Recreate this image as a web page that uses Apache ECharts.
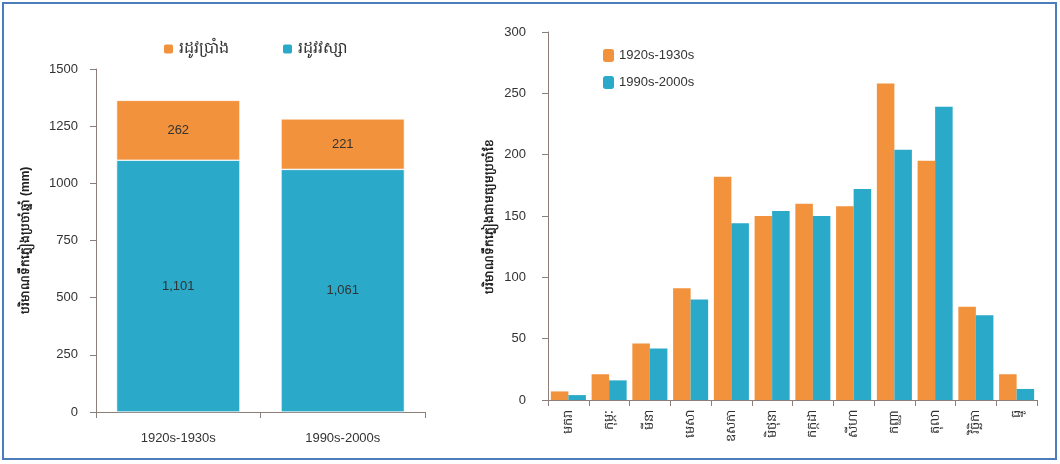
<!DOCTYPE html>
<html>
<head>
<meta charset="utf-8">
<script src="https://cdn.jsdelivr.net/npm/echarts@6/dist/echarts.min.js"></script>
<style>
  html, body { margin: 0; padding: 0; background: #fff; }
  #chart { width: 1060px; height: 464px; }
</style>
</head>
<body>
<div id="chart"></div>
<script>
// left chart: annual rainfall by season
var periods = ['1920s-1930s', '1990s-2000s'];
var seasonNames = ['រដូវប្រាំង', 'រដូវវស្សា'];
var drySeason = [262, 221];
var rainySeason = [1101, 1061];

// right chart: monthly rainfall
var months = ['មករា', 'កុម្ភៈ', 'មីនា', 'មេសា', 'ឧសភា', 'មិថុនា', 'កក្កដា', 'សីហា', 'កញ្ញា', 'តុលា', 'វិច្ឆិកា', 'ធ្នូ'];
var monthly1920s = [7, 21, 46, 91, 182, 150, 160, 158, 258, 195, 76, 21];
var monthly1990s = [4, 16, 42, 82, 144, 154, 150, 172, 204, 239, 69, 9];

var leftAxisName = 'បរិមាណទឹកភ្លៀងប្រចាំឆ្នាំ (mm)';
var rightAxisName = 'បរិមាណទឹកភ្លៀងជាមធ្យមប្រចាំខែ';

var ORANGE = '#F2923C';
var BLUE = '#2AA9C9';
var AXIS = '#8C7F7A';
var FONT = '"Liberation Sans", Arial, "Noto Sans", sans-serif';

var chart = echarts.init(document.getElementById('chart'));

function fmt(v) {
    return v.toLocaleString('en-US');
}

var option = {
    animation: false,
    textStyle: { fontFamily: FONT },
    graphic: [{
        type: 'rect',
        shape: { x: 3, y: 3, width: 1053, height: 456 },
        style: { fill: 'none', stroke: '#4A7DBA', lineWidth: 2 }
    }],
    legend: [{
        data: [seasonNames[0], seasonNames[1]],
        left: 157,
        top: 36,
        itemWidth: 11,
        itemHeight: 11,
        itemGap: 52,
        textStyle: { fontSize: 16, color: '#333' }
    }, {
        data: [periods[0], periods[1]],
        orient: 'vertical',
        left: 598,
        top: 44,
        itemWidth: 11,
        itemHeight: 13,
        itemGap: 14,
        textStyle: { fontSize: 13, color: '#333' }
    }],
    grid: [
        { left: 96, top: 69, width: 329, height: 343 },
        { left: 548, top: 32, width: 489, height: 368 }
    ],
    xAxis: [{
        type: 'category',
        gridIndex: 0,
        data: periods,
        axisLine: { lineStyle: { color: AXIS } },
        axisTick: { show: true, length: 6, lineStyle: { color: AXIS } },
        axisLabel: { color: '#333', fontSize: 13, margin: 20 }
    }, {
        type: 'category',
        gridIndex: 1,
        data: months,
        axisLine: { lineStyle: { color: AXIS } },
        axisTick: { show: true, length: 6, lineStyle: { color: AXIS } },
        axisLabel: { color: '#333', fontSize: 13, rotate: 90, margin: 10, interval: 0 }
    }],
    yAxis: [{
        type: 'value',
        gridIndex: 0,
        min: 0,
        max: 1500,
        interval: 250,
        name: leftAxisName,
        nameLocation: 'middle',
        nameGap: 64,
        nameRotate: 90,
        nameTextStyle: { color: '#222', fontSize: 12, fontWeight: 'bold' },
        axisLine: { show: true, lineStyle: { color: AXIS } },
        axisTick: { show: true, length: 6, lineStyle: { color: AXIS } },
        splitLine: { show: false },
        axisLabel: {
            color: '#333',
            fontSize: 13,
            margin: 18,
            formatter: function (v) { return String(v); }
        }
    }, {
        type: 'value',
        gridIndex: 1,
        min: 0,
        max: 300,
        interval: 50,
        name: rightAxisName,
        nameLocation: 'middle',
        nameGap: 52,
        nameRotate: 90,
        nameTextStyle: { color: '#222', fontSize: 12, fontWeight: 'bold' },
        axisLine: { show: true, lineStyle: { color: AXIS } },
        axisTick: { show: true, length: 6, lineStyle: { color: AXIS } },
        splitLine: { show: false },
        axisLabel: { color: '#333', fontSize: 13, margin: 22 }
    }],
    series: [{
        name: seasonNames[1],
        type: 'bar',
        xAxisIndex: 0,
        yAxisIndex: 0,
        stack: 'season',
        data: rainySeason,
        barWidth: '75%',
        itemStyle: { color: BLUE, borderColor: '#fff', borderWidth: 0.6 },
        label: {
            show: true,
            position: 'inside',
            color: '#333',
            fontSize: 13,
            formatter: function (p) { return fmt(p.value); }
        }
    }, {
        name: seasonNames[0],
        type: 'bar',
        xAxisIndex: 0,
        yAxisIndex: 0,
        stack: 'season',
        data: drySeason,
        barWidth: '75%',
        itemStyle: { color: ORANGE, borderColor: '#fff', borderWidth: 0.6 },
        label: {
            show: true,
            position: 'inside',
            color: '#333',
            fontSize: 13,
            formatter: function (p) { return fmt(p.value); }
        }
    }, {
        name: periods[0],
        type: 'bar',
        xAxisIndex: 1,
        yAxisIndex: 1,
        data: monthly1920s,
        barGap: '0%',
        barCategoryGap: '14%',
        itemStyle: { color: ORANGE }
    }, {
        name: periods[1],
        type: 'bar',
        xAxisIndex: 1,
        yAxisIndex: 1,
        data: monthly1990s,
        barGap: '0%',
        barCategoryGap: '14%',
        itemStyle: { color: BLUE }
    }]
};

chart.setOption(option);
</script>
</body>
</html>
